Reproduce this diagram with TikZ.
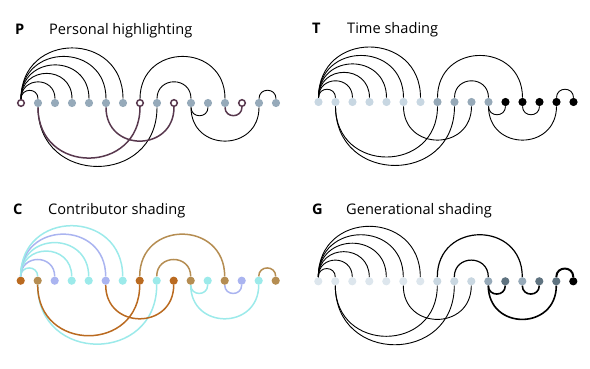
\documentclass[tikz,border=0pt]{standalone}
\usepackage{fontspec}
\setmainfont{Open Sans}
\definecolor{hlpurple}{RGB}{88,56,78}
\definecolor{pgray}{RGB}{150,170,186}
\definecolor{tlight}{RGB}{200,215,226}
\definecolor{tmid}{RGB}{150,169,184}
\definecolor{corange}{RGB}{186,106,32}
\definecolor{ctan}{RGB}{181,141,82}
\definecolor{clav}{RGB}{170,180,240}
\definecolor{ccyan}{RGB}{156,234,234}
\definecolor{gzero}{RGB}{221,230,237}
\definecolor{gtwo}{RGB}{201,215,225}
\definecolor{gthree}{RGB}{150,169,184}
\definecolor{gfour}{RGB}{95,115,128}

\begin{document}
\begin{tikzpicture}[x=1pt,y=1pt,
  dot/.style={circle,inner sep=0pt,minimum size=8.2pt},
  pdot/.style={dot,fill=pgray},
  hol/.style={dot,draw=hlpurple,line width=1.5pt,fill=white,minimum size=6.6pt},
  thread/.style={line width=0.9pt},
  hlarc/.style={line width=1.5pt,draw=hlpurple},
  carc/.style={line width=1.5pt},
  title/.style={anchor=base west,inner sep=0pt,font=\fontsize{14.6}{17}\selectfont},
  tag/.style={anchor=base west,inner sep=0pt,font=\fontsize{14.6}{17}\selectfont\bfseries}]
\useasboundingbox (0,0) rectangle (590,368);

% P: personal highlighting
\node[tag] (ptag) at (15,334) {P};
\node[title] (ptitle) at (49,334) {Personal highlighting};
\begin{scope}[shift={(21,265)}]
\foreach \k/\c in {0/hol,1/pdot,2/pdot,3/pdot,4/pdot,5/pdot,6/pdot,7/hol,8/pdot,9/hol,10/pdot,11/pdot,12/pdot,13/hol,14/pdot,15/pdot}{
  \node[\c] (p\k) at (17*\k,0) {};}
\foreach \a/\b/\d/\s in {0/1/90/thread,0/2/90/thread,0/3/90/thread,0/4/90/thread,0/5/90/thread,0/6/90/thread,7/12/90/thread,8/10/90/thread,14/15/90/thread,1/8/-90/thread,1/7/-90/hlarc,5/9/-90/hlarc,10/11/-90/thread,10/14/-90/thread,12/13/-90/hlarc}{
  \draw[\s] (p\a.\d) to[out=\d,in=\d,looseness=1.7] (p\b.\d);}
\end{scope}

% T: time shading
\node[tag] (ttag) at (312,335) {T};
\node[title] (ttitle) at (347,335) {Time shading};
\begin{scope}[shift={(318.5,266)}]
\foreach \k/\c in {0/tlight,1/tlight,2/tlight,3/tlight,4/tlight,5/tlight,6/tlight,7/tmid,8/tmid,9/tmid,10/tmid,11/black,12/black,13/black,14/black,15/black}{
  \node[dot,fill=\c] (t\k) at (17*\k,0) {};}
\foreach \a/\b/\d in {0/1/90,0/2/90,0/3/90,0/4/90,0/5/90,0/6/90,7/12/90,8/10/90,14/15/90,1/7/-90,1/8/-90,5/9/-90,10/11/-90,10/14/-90,12/13/-90}{
  \draw[thread] (t\a.\d) to[out=\d,in=\d,looseness=1.7] (t\b.\d);}
\end{scope}

% C: contributor shading
\node[tag] (ctag) at (13,154) {C};
\node[title] (ctitle) at (48,154) {Contributor shading};
\begin{scope}[shift={(20.7,87.3)}]
\foreach \k/\c in {0/corange,1/ctan,2/clav,3/ccyan,4/ccyan,5/clav,6/ccyan,7/corange,8/ccyan,9/corange,10/ctan,11/ccyan,12/ctan,13/clav,14/ccyan,15/ctan}{
  \node[dot,fill=\c] (c\k) at (17*\k,0) {};}
\foreach \a/\b/\d/\c in {0/1/90/ccyan,0/2/90/clav,0/3/90/ccyan,0/4/90/ccyan,0/5/90/clav,0/6/90/ccyan,7/12/90/ctan,8/10/90/ctan,14/15/90/ctan,1/8/-90/ccyan,1/7/-90/corange,5/9/-90/corange,10/11/-90/ccyan,10/14/-90/ccyan,12/13/-90/clav}{
  \draw[carc,\c] (c\a.\d) to[out=\d,in=\d,looseness=1.7] (c\b.\d);}
\end{scope}

% G: generational shading
\node[tag] (gtag) at (312,154) {G};
\node[title] (gtitle) at (346,154) {Generational shading};
\begin{scope}[shift={(318.3,86.7)}]
\foreach \k/\c in {0/gzero,1/gzero,2/gzero,3/gzero,4/gzero,5/gzero,6/gzero,7/gtwo,8/gtwo,9/gtwo,10/gthree,11/gfour,12/gthree,13/gfour,14/gfour,15/black}{
  \node[dot,fill=\c] (g\k) at (17*\k,0) {};}
\foreach \a/\b/\d/\w in {0/1/90/0.9,0/2/90/0.9,0/3/90/0.9,0/4/90/0.9,0/5/90/0.9,0/6/90/0.9,7/12/90/1.2,8/10/90/1.2,14/15/90/2,1/7/-90/0.9,1/8/-90/0.9,5/9/-90/0.9,10/11/-90/1.6,10/14/-90/1.6,12/13/-90/1.6}{
  \draw[line width=\w pt] (g\a.\d) to[out=\d,in=\d,looseness=1.7] (g\b.\d);}
\end{scope}
\end{tikzpicture}
\end{document}
